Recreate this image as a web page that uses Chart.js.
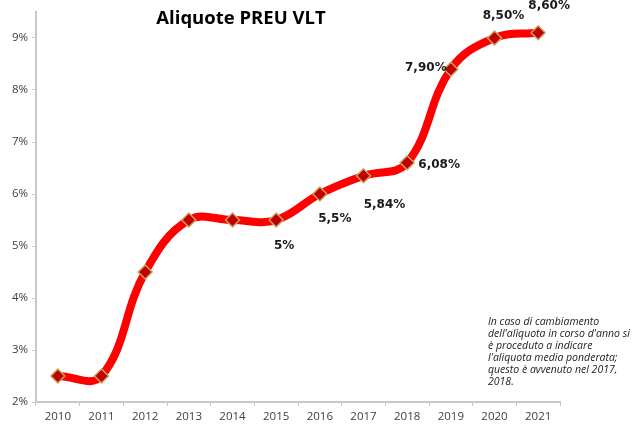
<!DOCTYPE html>
<html><head><meta charset="utf-8">
<script src="https://cdn.jsdelivr.net/npm/chart.js@4/dist/chart.umd.min.js"></script>
<style>html,body{margin:0;padding:0;background:#fff}#wrap{width:640px;height:432px}</style>
</head><body><div id="wrap"><canvas id="c" width="640" height="432"></canvas></div>
<script>
const years = ['2010','2011','2012','2013','2014','2015','2016','2017','2018','2019','2020','2021'];
const rates = [2.5, 2.5, 4.5, 5.5, 5.5, 5.5, 6.0, 6.35, 6.6, 8.4, 9.0, 9.1];
const pointLabels = ['', '', '', '', '', '5%', '5,5%', '5,84%', '6,08%', '7,90%', '8,50%', '8,60%'];
const yTicks = [2, 3, 4, 5, 6, 7, 8, 9];
const titleText = 'Aliquote PREU VLT';
const noteLines = ["In caso di cambiamento", "dell'aliquota in corso d'anno si", "è proceduto a indicare", "l'aliquota media ponderata;", "questo è avvenuto nel 2017,", "2018."];

// label offsets relative to point centre (style only)
const labelOffsets = [[0,0],[0,0],[0,0],[0,0],[0,0],[8,26],[15,25],[21,29],[32,2],[-25,-1],[9,-22],[11,-27]];

const overlay = {
  id: 'overlay',
  afterDatasetsDraw(chart) {
    const ctx = chart.ctx;
    const meta = chart.getDatasetMeta(0);
    ctx.save();
    ctx.fillStyle = '#1a1a1a';
    ctx.font = 'bold 12px "DejaVu Sans"';
    ctx.textAlign = 'center';
    ctx.textBaseline = 'middle';
    meta.data.forEach((p, i) => {
      const t = pointLabels[i];
      if (!t) return;
      const o = labelOffsets[i];
      ctx.fillText(t, p.x + o[0], p.y + o[1]);
    });
    // title
    ctx.fillStyle = '#000';
    ctx.font = 'bold 18.5px "Open Sans"';
    ctx.fillText(titleText, 241, 19);
    // note
    ctx.fillStyle = '#222';
    ctx.font = 'italic 10.5px "Open Sans"';
    ctx.textAlign = 'left';
    noteLines.forEach((l, i) => ctx.fillText(l, 488, 322 + i * 12));
    ctx.restore();
  }
};

new Chart(document.getElementById('c'), {
  type: 'line',
  data: {
    labels: years,
    datasets: [{
      data: rates,
      borderColor: '#ff0000',
      borderWidth: 8,
      tension: 0.4,
      pointStyle: 'rectRot',
      pointRadius: 7,
      pointBackgroundColor: '#c00000',
      pointBorderColor: '#c9a55a',
      pointBorderWidth: 1.5,
      borderCapStyle: 'round',
      borderJoinStyle: 'round'
    }]
  },
  options: {
    responsive: false,
    animation: false,
    events: [],
    layout: { padding: { top: 12, right: 80, left: 0, bottom: 0 } },
    plugins: { legend: { display: false }, tooltip: { enabled: false }, title: { display: false } },
    scales: {
      x: {
        offset: true,
        grid: { offset: true, drawOnChartArea: false, color: '#c8c8c8', tickLength: 4, lineWidth: 1 },
        border: { color: '#c8c8c8', width: 2 },
        ticks: { color: '#404040', font: { family: '"Open Sans"', size: 11.5 }, padding: 4 },
        afterFit(s) { s.height = 30; }
      },
      y: {
        min: 2, max: 9.5,
        afterBuildTicks(s) { s.ticks = yTicks.map(v => ({ value: v })); },
        grid: { drawOnChartArea: false, color: '#c8c8c8', tickLength: 4 },
        border: { color: '#c8c8c8', width: 2 },
        ticks: { color: '#404040', font: { family: '"Open Sans"', size: 11.5 }, padding: 4, callback: v => v + '%' },
        afterFit(s) { s.width = 36; }
      }
    }
  },
  plugins: [overlay]
});
</script></body></html>
